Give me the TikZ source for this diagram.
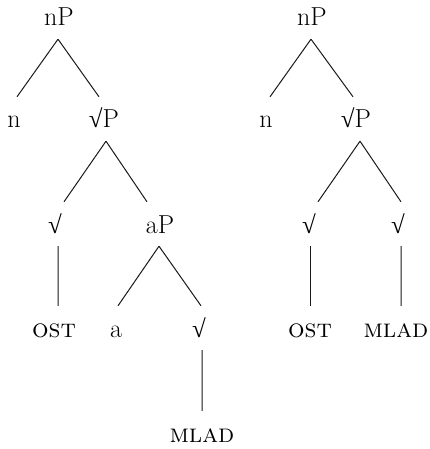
\documentclass[tikz,border=0pt]{standalone}
\usepackage{fontspec}
\newfontfamily\rootfont{Liberation Serif}
\newcommand{\rootmark}{{\rootfont\fontsize{25bp}{30bp}\selectfont √}}
\newcommand{\lexeme}[1]{{\fontsize{26bp}{30bp}\selectfont\textsc{#1}}}
\begin{document}
\begin{tikzpicture}[x=1bp,y=-1bp,
  lbl/.style={anchor=base,inner xsep=0pt,inner ysep=13bp,
    text height=18bp,text depth=0pt,
    font=\fontsize{26bp}{30bp}\selectfont},
  br/.style={line width=1bp,draw=black!90}]
\useasboundingbox (0,0) rectangle (429,449);

% left tree
\node[lbl] (np1) at (59,26) {nP};
\node[lbl] (n1) at (14,128) {n};
\node[lbl] (sp1) at (104,128) {\rootmark P};
\node[lbl] (r1) at (55,233) {\rootmark};
\node[lbl] (ap) at (160,233) {aP};
\node[lbl] (ost1) at (54,337) {\lexeme{ost}};
\node[lbl] (a) at (116,337) {a};
\node[lbl] (r2) at (199,337) {\rootmark};
\node[lbl] (mlad1) at (202,442) {\lexeme{mlad}};

\draw[br] ([xshift=-1bp]np1.south) -- ([xshift=3bp]n1.north);
\draw[br] ([xshift=-1bp]np1.south) -- ([xshift=-5bp]sp1.north);
\draw[br] ([xshift=2bp]sp1.south) -- ([xshift=9bp]r1.north);
\draw[br] ([xshift=2bp]sp1.south) -- ([xshift=-13bp]ap.north);
\draw[br] ([xshift=3bp]r1.south) -- ([xshift=4bp]ost1.north);
\draw[br] ([xshift=-1bp]ap.south) -- ([xshift=2bp]a.north);
\draw[br] ([xshift=-1bp]ap.south) -- ([xshift=2bp]r2.north);
\draw[br] ([xshift=3bp]r2.south) -- (mlad1.north);

% right tree
\node[lbl] (np2) at (312,26) {nP};
\node[lbl] (n2) at (266,128) {n};
\node[lbl] (sp2) at (356,128) {\rootmark P};
\node[lbl] (r3) at (309,233) {\rootmark};
\node[lbl] (r4) at (398,233) {\rootmark};
\node[lbl] (ost2) at (310,337) {\lexeme{ost}};
\node[lbl] (mlad2) at (396,337) {\lexeme{mlad}};

\draw[br] ([xshift=-1bp]np2.south) -- ([xshift=4bp]n2.north);
\draw[br] ([xshift=-1bp]np2.south) -- ([xshift=-3bp]sp2.north);
\draw[br] ([xshift=4bp]sp2.south) -- ([xshift=9bp]r3.north);
\draw[br] ([xshift=4bp]sp2.south) -- ([xshift=3bp]r4.north);
\draw[br] ([xshift=1bp]r3.south) -- (ost2.north);
\draw[br] ([xshift=3bp]r4.south) -- ([xshift=5bp]mlad2.north);
\end{tikzpicture}
\end{document}
